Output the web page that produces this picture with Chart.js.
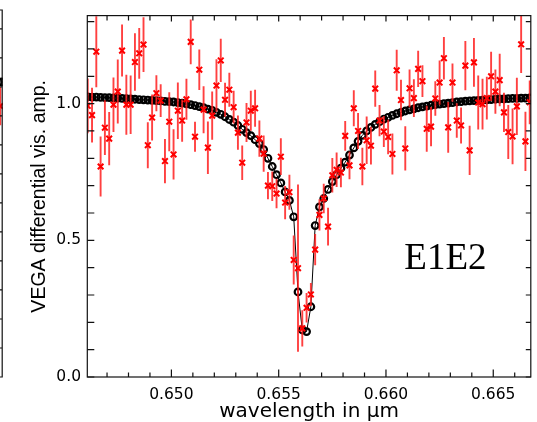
<!DOCTYPE html>
<html>
<head>
<meta charset="utf-8">
<script src="https://cdn.jsdelivr.net/npm/chart.js@4.4.1/dist/chart.umd.min.js"></script>
<style>
  html, body { margin: 0; padding: 0; background: #fff; overflow: hidden; }
  #wrap { position: relative; width: 537px; height: 422px; }
  #left { position: absolute; left: -51px; top: 0; }
  #main { position: absolute; left: 0; top: 0; }
</style>
</head>
<body>
<div id="wrap">
  <canvas id="left" width="60" height="422"></canvas>
  <canvas id="main" width="537" height="422"></canvas>
</div>
<script>
// wavelength grid (µm), shared by model and measurement
const wavelengths = [
  0.6461, 0.6463, 0.6465, 0.6467, 0.6469, 0.6471, 0.6473, 0.6475, 0.6477, 0.6479,
  0.6481, 0.6483, 0.6485, 0.6487, 0.6489, 0.6491, 0.6493, 0.6495, 0.6497, 0.6499,
  0.6501, 0.6503, 0.6505, 0.6507, 0.6509, 0.6511, 0.6513, 0.6515, 0.6517, 0.6519,
  0.6521, 0.6523, 0.6525, 0.6527, 0.6529, 0.6531, 0.6533, 0.6535, 0.6537, 0.6539,
  0.6541, 0.6543, 0.6545, 0.6547, 0.6549, 0.6551, 0.6553, 0.6555, 0.6557, 0.6559,
  0.6561, 0.6563, 0.6565, 0.6567, 0.6569, 0.6571, 0.6573, 0.6575, 0.6577, 0.6579,
  0.6581, 0.6583, 0.6585, 0.6587, 0.6589, 0.6591, 0.6593, 0.6595, 0.6597, 0.6599,
  0.6601, 0.6603, 0.6605, 0.6607, 0.6609, 0.6611, 0.6613, 0.6615, 0.6617, 0.6619,
  0.6621, 0.6623, 0.6625, 0.6627, 0.6629, 0.6631, 0.6633, 0.6635, 0.6637, 0.6639,
  0.6641, 0.6643, 0.6645, 0.6647, 0.6649, 0.6651, 0.6653, 0.6655, 0.6657, 0.6659,
  0.6661, 0.6663, 0.6665, 0.6667
];

// model differential visibility (black circles)
const modelAmp = [
  1.025, 1.024, 1.024, 1.023, 1.022, 1.022, 1.021, 1.020, 1.019, 1.018,
  1.017, 1.016, 1.015, 1.014, 1.013, 1.012, 1.011, 1.010, 1.008, 1.007,
  1.006, 1.004, 1.002, 0.999, 0.996, 0.993, 0.989, 0.985, 0.980, 0.975,
  0.968, 0.961, 0.952, 0.942, 0.932, 0.920, 0.906, 0.894, 0.883, 0.868,
  0.854, 0.832, 0.800, 0.770, 0.740, 0.710, 0.677, 0.646, 0.586, 0.311,
  0.172, 0.166, 0.257, 0.554, 0.622, 0.653, 0.686, 0.715, 0.740, 0.764,
  0.786, 0.812, 0.838, 0.862, 0.884, 0.900, 0.913, 0.924, 0.934, 0.943,
  0.950, 0.957, 0.963, 0.968, 0.973, 0.977, 0.981, 0.985, 0.988, 0.991,
  0.994, 0.996, 0.998, 1.000, 1.002, 1.004, 1.006, 1.007, 1.009, 1.010,
  1.011, 1.012, 1.013, 1.014, 1.015, 1.016, 1.017, 1.017, 1.018, 1.019,
  1.019, 1.020, 1.020, 1.021
];

// measured E1E2 differential visibility (red crosses) and its errors
const visAmp = [
  0.992, 0.958, 1.190, 0.770, 0.912, 0.872, 0.996, 1.044, 1.194, 0.996,
  0.996, 1.152, 1.184, 1.216, 0.848, 0.949, 1.038, 1.011, 0.790, 0.934,
  0.814, 0.974, 0.938, 1.016, 1.226, 0.879, 1.124, 0.978, 0.839, 0.956,
  1.066, 1.158, 1.014, 1.051, 0.987, 0.894, 0.784, 0.931, 0.974, 0.983,
  0.872, 0.817, 0.700, 0.698, 0.671, 0.806, 0.638, 0.676, 0.428, 0.398,
  0.178, 0.253, 0.302, 0.466, 0.593, 0.653, 0.550, 0.738, 0.758, 0.748,
  0.882, 0.774, 0.983, 0.900, 0.770, 0.866, 0.846, 1.055, 0.938, 0.898,
  0.878, 0.816, 1.122, 1.013, 0.836, 1.056, 1.020, 1.127, 1.082, 0.908,
  0.916, 1.019, 1.077, 1.166, 0.913, 1.077, 0.938, 0.920, 1.139, 0.829,
  1.151, 1.004, 0.998, 1.020, 1.100, 1.044, 1.086, 0.968, 0.896, 0.880,
  0.990, 1.217, 0.862, 1.005
];
const visErr = [
  0.100, 0.100, 0.130, 0.110, 0.100, 0.097, 0.100, 0.117, 0.095, 0.110,
  0.107, 0.105, 0.093, 0.100, 0.084, 0.084, 0.066, 0.060, 0.081, 0.108,
  0.092, 0.103, 0.077, 0.075, 0.082, 0.055, 0.074, 0.086, 0.096, 0.088,
  0.096, 0.079, 0.062, 0.062, 0.060, 0.063, 0.063, 0.071, 0.073, 0.068,
  0.066, 0.066, 0.050, 0.054, 0.054, 0.067, 0.061, 0.064, 0.090, 0.306,
  0.066, 0.054, 0.042, 0.057, 0.057, 0.054, 0.069, 0.063, 0.063, 0.054,
  0.054, 0.051, 0.066, 0.066, 0.069, 0.087, 0.069, 0.066, 0.057, 0.057,
  0.063, 0.075, 0.075, 0.074, 0.081, 0.069, 0.069, 0.066, 0.058, 0.084,
  0.072, 0.063, 0.081, 0.078, 0.093, 0.070, 0.063, 0.066, 0.090, 0.090,
  0.089, 0.099, 0.093, 0.078, 0.090, 0.081, 0.096, 0.072, 0.099, 0.102,
  0.105, 0.105, 0.108, 0.080
];

const xTicks = [0.650, 0.655, 0.660, 0.665];
const xMinorTicks = [0.647, 0.648, 0.649, 0.651, 0.652, 0.653, 0.654, 0.656, 0.657, 0.658,
  0.659, 0.661, 0.662, 0.663, 0.664, 0.666];
const yTicks = [0.0, 0.5, 1.0];
const yMinorTicks = [0.1, 0.2, 0.3, 0.4, 0.6, 0.7, 0.8, 0.9, 1.1, 1.2, 1.3];

// the right-hand end of the neighbouring panel, cut by the figure edge
const leftModelWl = [0.6661, 0.6663, 0.6665, 0.6667];
const leftModelAmp = [1.016, 1.016, 1.017, 1.017];
const leftWl = [0.6664, 0.6666];
const leftAmp = [0.955, 0.934];
const leftErr = [0.066, 0.066];
const leftTicks = [0.1, 0.2, 0.3, 0.4, 0.5, 0.6, 0.7, 0.8, 0.9, 1.0, 1.1, 1.2];

function errorBars(wl, amp, err, underIndex) {
  return {
    id: 'errorBars',
    afterDatasetDraw(chart, args) {
      if (args.index !== underIndex) return;
      const { ctx, chartArea: a, scales: { x, y } } = chart;
      ctx.save();
      ctx.beginPath();
      ctx.rect(a.left, a.top, a.right - a.left, a.bottom - a.top);
      ctx.clip();
      ctx.strokeStyle = 'rgba(255,30,30,0.85)';
      ctx.lineWidth = 1.9;
      ctx.beginPath();
      wl.forEach((w, i) => {
        const px = x.getPixelForValue(w);
        ctx.moveTo(px, y.getPixelForValue(amp[i] - err[i]));
        ctx.lineTo(px, y.getPixelForValue(amp[i] + err[i]));
      });
      ctx.stroke();
      ctx.restore();
    }
  };
}

const frame = {
  id: 'frame',
  afterDraw(chart) {
    const { ctx, chartArea: a, scales: { x, y } } = chart;
    const line = (x0, y0, x1, y1) => { ctx.moveTo(x0, y0); ctx.lineTo(x1, y1); };
    ctx.save();
    ctx.strokeStyle = '#111';
    ctx.lineWidth = 1.2;
    ctx.strokeRect(a.left, a.top, a.right - a.left, a.bottom - a.top);
    ctx.beginPath();
    xMinorTicks.forEach(v => {
      const p = x.getPixelForValue(v);
      line(p, a.bottom, p, a.bottom - 4.5);
      line(p, a.top, p, a.top + 5);
    });
    xTicks.forEach(v => {
      const p = x.getPixelForValue(v);
      line(p, a.bottom, p, a.bottom - 7.5);
      line(p, a.top, p, a.top + 6);
    });
    yMinorTicks.concat(yTicks).forEach(v => {
      const p = y.getPixelForValue(v);
      line(a.left, p, a.left + 7, p);
      line(a.right, p, a.right - 5, p);
    });
    ctx.stroke();
    // baseline label
    ctx.fillStyle = '#000';
    ctx.font = '37px "Liberation Serif", "Times New Roman", serif';
    ctx.textBaseline = 'alphabetic';
    ctx.fillText('E1E2', a.left + 317, a.top + 253);
    ctx.restore();
  }
};

const leftFrame = {
  id: 'leftFrame',
  afterDraw(chart) {
    const { ctx, chartArea: a, scales: { y } } = chart;
    ctx.save();
    ctx.strokeStyle = '#111';
    ctx.lineWidth = 1.2;
    ctx.beginPath();
    ctx.moveTo(a.left, a.top); ctx.lineTo(a.right - 0.6, a.top);
    ctx.lineTo(a.right - 0.6, a.bottom); ctx.lineTo(a.left, a.bottom);
    leftTicks.forEach(v => {
      const p = y.getPixelForValue(v);
      ctx.moveTo(a.right, p); ctx.lineTo(a.right - 7, p);
    });
    ctx.stroke();
    ctx.restore();
  }
};

new Chart(document.getElementById('main'), {
  type: 'scatter',
  data: {
    datasets: [
      {
        label: 'E1E2',
        data: wavelengths.map((w, i) => ({ x: w, y: visAmp[i] })),
        order: 0,
        pointStyle: 'crossRot',
        pointRadius: 4,
        pointBorderWidth: 2,
        pointBorderColor: '#ff0000',
        pointBackgroundColor: '#ff0000',
        showLine: false,
      },
      {
        label: 'model',
        data: wavelengths.map((w, i) => ({ x: w, y: modelAmp[i] })),
        order: 1,
        showLine: true,
        borderColor: '#000',
        borderWidth: 1,
        pointStyle: 'circle',
        pointRadius: 3.3,
        pointBorderWidth: 2.2,
        pointBorderColor: '#000',
        pointBackgroundColor: 'rgba(0,0,0,0)',
      }
    ]
  },
  options: {
    responsive: false,
    animation: false,
    layout: { padding: { top: 10, right: 4.3, left: 0, bottom: 0 } },
    plugins: { legend: { display: false }, tooltip: { enabled: false } },
    scales: {
      x: {
        type: 'linear', min: 0.64608, max: 0.66675,
        grid: { display: false, drawTicks: false },
        border: { display: false },
        afterBuildTicks: s => { s.ticks = xTicks.map(v => ({ value: v })); },
        afterFit: s => { s.height = 45; },
        ticks: {
          color: '#000', padding: 8.5, maxRotation: 0, autoSkip: false,
          font: { family: 'DejaVu Sans', size: 15.5 },
          callback: v => v.toFixed(3),
        },
        title: {
          display: true, text: 'wavelength in µm', color: '#000',
          font: { family: 'DejaVu Sans', size: 20, lineHeight: 1 },
          padding: { top: 0, bottom: 0 },
        },
      },
      y: {
        type: 'linear', min: 0, max: 1.322,
        grid: { display: false, drawTicks: false },
        border: { display: false },
        afterBuildTicks: s => { s.ticks = yTicks.map(v => ({ value: v })); },
        afterFit: s => { s.width = 87.3; },
        ticks: {
          color: '#000', padding: 6.3,
          font: { family: 'DejaVu Sans', size: 15.5 },
          callback: v => v.toFixed(1),
        },
        title: {
          display: true, text: 'VEGA differential vis. amp.', color: '#000',
          font: { family: 'Liberation Sans', size: 19.5, lineHeight: 1 },
          padding: { top: 30, bottom: 0 },
        },
      },
    },
  },
  plugins: [errorBars(wavelengths, visAmp, visErr, 1), frame],
});

new Chart(document.getElementById('left'), {
  type: 'scatter',
  data: {
    datasets: [
      {
        data: leftWl.map((w, i) => ({ x: w, y: leftAmp[i] })),
        order: 0,
        pointStyle: 'crossRot', pointRadius: 4, pointBorderWidth: 2,
        pointBorderColor: '#ff0000', showLine: false,
      },
      {
        data: leftModelWl.map((w, i) => ({ x: w, y: leftModelAmp[i] })),
        order: 1,
        showLine: true, borderColor: '#000', borderWidth: 1,
        pointRadius: 3.3, pointBorderWidth: 2.2, pointBorderColor: '#000',
        pointBackgroundColor: 'rgba(0,0,0,0)',
      }
    ]
  },
  options: {
    responsive: false,
    animation: false,
    layout: { padding: { top: 10, right: 0, left: 0, bottom: 45 } },
    plugins: { legend: { display: false }, tooltip: { enabled: false } },
    scales: {
      x: { type: 'linear', min: 0.66397, max: 0.66675, display: false },
      y: { type: 'linear', min: 0, max: 1.265, display: false },
    },
  },
  plugins: [errorBars(leftWl, leftAmp, leftErr, 1), leftFrame],
});
</script>
</body>
</html>
